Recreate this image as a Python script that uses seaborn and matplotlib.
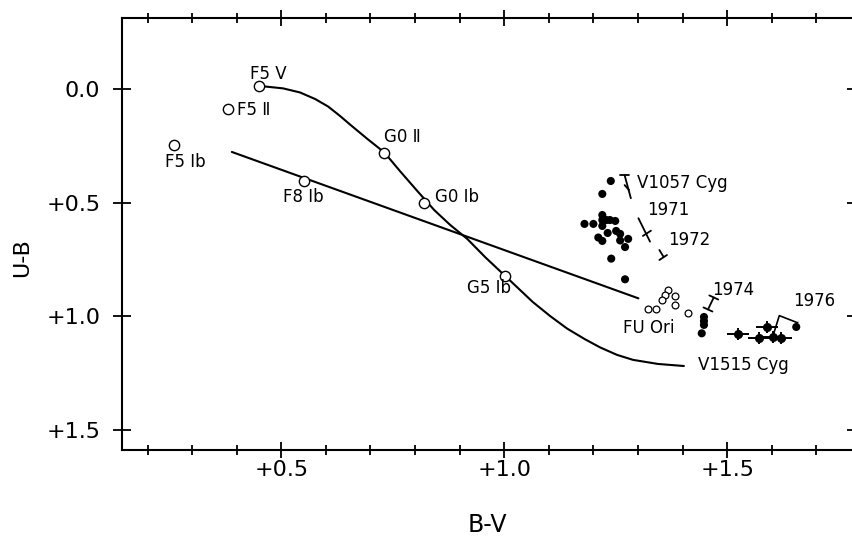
import numpy as np
import matplotlib
matplotlib.use("Agg")
import matplotlib.pyplot as plt
import seaborn as sns

# standard stars (open circles)
std_names = ["F5 Ⅴ", "F5 Ⅱ", "F5 Ib", "F8 Ib", "G0 Ⅱ", "G0 Ib", "G5 Ib"]
std_bv = [0.450, 0.381, 0.260, 0.550, 0.730, 0.821, 1.002]
std_ub = [-0.016, 0.087, 0.245, 0.402, 0.279, 0.502, 0.821]

# curved sequence through the standards
curve_bv = [0.450, 0.504, 0.542, 0.576, 0.605, 0.632, 0.654, 0.692, 0.731, 0.766,
            0.805, 0.843, 0.879, 0.917, 0.957, 1.002, 1.064, 1.103, 1.141, 1.181,
            1.215, 1.253, 1.289, 1.345, 1.403]
curve_ub = [-0.015, -0.004, 0.014, 0.043, 0.076, 0.118, 0.155, 0.217, 0.278, 0.360,
            0.448, 0.532, 0.598, 0.659, 0.739, 0.822, 0.937, 0.999, 1.054, 1.101,
            1.137, 1.170, 1.192, 1.210, 1.219]

# straight line
line_bv = [0.389, 1.301]
line_ub = [0.276, 0.921]

# V1057 Cyg (filled dots)
v1057_bv = [1.239, 1.220, 1.220, 1.220, 1.229, 1.237, 1.249, 1.180, 1.200, 1.220,
            1.232, 1.251, 1.260, 1.211, 1.220, 1.260, 1.278, 1.271, 1.240, 1.271]
v1057_ub = [0.404, 0.461, 0.554, 0.576, 0.576, 0.576, 0.580, 0.593, 0.593, 0.602,
            0.633, 0.624, 0.637, 0.653, 0.668, 0.666, 0.659, 0.695, 0.746, 0.837]

# FU Ori (small open circles)
fuori_bv = [1.367, 1.382, 1.361, 1.353, 1.382, 1.322, 1.341, 1.412]
fuori_ub = [0.884, 0.911, 0.906, 0.928, 0.950, 0.969, 0.969, 0.987]

# V1515 Cyg 1974 (filled dots)
v1974_bv = [1.448, 1.448, 1.448, 1.443]
v1974_ub = [1.003, 1.021, 1.038, 1.075]

# V1515 Cyg 1976 (with error bars)
v1976_bv = [1.524, 1.572, 1.590, 1.603, 1.620]
v1976_ub = [1.079, 1.097, 1.046, 1.090, 1.094]
v1976_xerr = [0.025, 0.025, 0.025, 0.025, 0.025]
v1976_yerr = [0.026, 0.026, 0.026, 0.026, 0.026]
v1976_extra_bv = [1.655]
v1976_extra_ub = [1.047]

# bracket joining 1976 points to the label
bracket_bv = [1.604, 1.617, 1.658, 1.658]
bracket_ub = [1.079, 0.997, 1.016, 1.041]

# track marks (stems and bars)
track_segments = [
    ([1.270, 1.284], [0.378, 0.480]),
    ([1.260, 1.279], [0.378, 0.378]),
    ([1.270, 1.280], [0.422, 0.444]),
    ([1.301, 1.327], [0.568, 0.671]),
    ([1.311, 1.329], [0.646, 0.623]),
    ([1.348, 1.357], [0.708, 0.737]),
    ([1.348, 1.365], [0.752, 0.730]),
    ([1.470, 1.457], [0.917, 0.970]),
    ([1.460, 1.480], [0.908, 0.926]),
    ([1.447, 1.467], [0.961, 0.979]),
]

sns.set_style("white")
plt.rcParams['font.family'] = ['DejaVu Sans']

fig = plt.figure(figsize=(8.53, 5.44), dpi=100)
ax = fig.add_axes([0.1430, 0.1728, 0.8605, 0.7941])

sns.lineplot(x=curve_bv, y=curve_ub, sort=False, color="black", lw=1.5, ax=ax, zorder=2)
sns.lineplot(x=line_bv, y=line_ub, sort=False, color="black", lw=1.5, ax=ax, zorder=2)
sns.lineplot(x=bracket_bv, y=bracket_ub, sort=False, color="black", lw=1.2, ax=ax)
for sx, sy in track_segments:
    ax.plot(sx, sy, color="black", lw=1.3)

sns.scatterplot(x=std_bv, y=std_ub, s=55, facecolor="white", edgecolor="black",
                linewidth=1.0, ax=ax, zorder=3)
sns.scatterplot(x=fuori_bv, y=fuori_ub, s=24, facecolor="white", edgecolor="black",
                linewidth=0.9, ax=ax, zorder=3)
sns.scatterplot(x=v1057_bv, y=v1057_ub, s=34, color="black", edgecolor="none", ax=ax, zorder=3)
sns.scatterplot(x=v1974_bv, y=v1974_ub, s=34, color="black", edgecolor="none", ax=ax, zorder=3)
sns.scatterplot(x=v1976_extra_bv, y=v1976_extra_ub, s=34, color="black", edgecolor="none",
                ax=ax, zorder=3)
ax.errorbar(v1976_bv, v1976_ub, xerr=v1976_xerr, yerr=v1976_yerr, fmt="o", ms=5.5,
            color="black", elinewidth=1.4, capsize=0, zorder=3)

# labels
lab = dict(fontsize=12, color="black")
ax.text(0.470, -0.067, std_names[0], ha="center", va="center", **lab)
ax.text(0.400, 0.091, std_names[1], ha="left", va="center", **lab)
ax.text(0.284, 0.319, std_names[2], ha="center", va="center", **lab)
ax.text(0.549, 0.473, std_names[3], ha="center", va="center", **lab)
ax.text(0.772, 0.211, std_names[4], ha="center", va="center", **lab)
ax.text(0.845, 0.473, std_names[5], ha="left", va="center", **lab)
ax.text(0.966, 0.877, std_names[6], ha="center", va="center", **lab)
ax.text(1.298, 0.413, "V1057 Cyg", ha="left", va="center", **lab)
ax.text(1.320, 0.532, "1971", ha="left", va="center", **lab)
ax.text(1.368, 0.664, "1972", ha="left", va="center", **lab)
ax.text(1.266, 1.053, "FU Ori", ha="left", va="center", **lab)
ax.text(1.466, 0.884, "1974", ha="left", va="center", **lab)
ax.text(1.648, 0.933, "1976", ha="left", va="center", **lab)
ax.text(1.435, 1.215, "V1515 Cyg", ha="left", va="center", **lab)

# axes
ax.set_xlim(0.1426, 1.789)
ax.set_ylim(1.589, -0.314)
ax.set_xticks([0.5, 1.0, 1.5])
ax.set_xticklabels(["+0.5", "+1.0", "+1.5"])
ax.set_xticks([0.2, 0.3, 0.4, 0.6, 0.7, 0.8, 0.9, 1.1, 1.2, 1.3, 1.4, 1.6, 1.7], minor=True)
ax.set_yticks([0.0, 0.5, 1.0, 1.5])
ax.set_yticklabels(["0.0", "+0.5", "+1.0", "+1.5"])
ax.tick_params(axis="x", which="major", direction="inout", length=12, width=1.3,
               top=True, bottom=True, labelsize=16, pad=1, colors="black")
ax.tick_params(axis="x", which="minor", direction="inout", length=7, width=1.3,
               top=True, bottom=True, colors="black")
ax.tick_params(axis="y", which="major", direction="inout", length=13, width=1.3,
               left=True, right=True, labelsize=16, pad=9, colors="black")
for sp in ax.spines.values():
    sp.set_linewidth(1.5)
    sp.set_color("black")
ax.set_xlabel("")
ax.set_ylabel("")

fig.text(487 / 853, 1 - 525 / 544, "B-V", ha="center", va="center", fontsize=17, color="black")
fig.text(22 / 853, 1 - 258 / 544, "U-B", ha="center", va="center", fontsize=16, rotation=90,
         color="black")

fig.savefig("out.png", dpi=100)
